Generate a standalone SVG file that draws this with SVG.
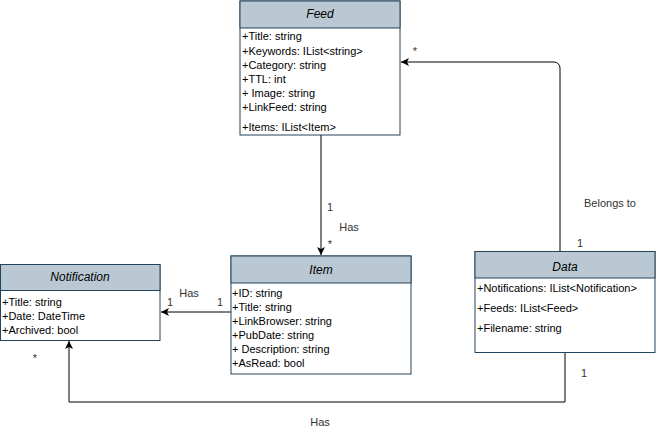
<svg xmlns="http://www.w3.org/2000/svg" width="671" height="433" viewBox="0 0 671 433">
<style>
.box{fill:#ffffff;stroke:#23445d;stroke-width:1}
.hdr{fill:#bac8d3;stroke:#23445d;stroke-width:1}
.title{font-family:"Liberation Sans",Arial,sans-serif;font-size:12px;font-style:italic;fill:#000;text-anchor:middle}
.attr{font-family:"Liberation Sans",Arial,sans-serif;font-size:11px;fill:#000}
.lbl{font-family:"Liberation Sans",Arial,sans-serif;font-size:11px;fill:#333;text-anchor:middle}
.edge{fill:none;stroke:#000;stroke-width:1}
</style>
<defs>
<marker id="arr" markerWidth="10" markerHeight="10" refX="8" refY="4" orient="auto" markerUnits="userSpaceOnUse">
<path d="M0,0 L8,4 L0,8 L2,4 Z" fill="#000"/>
</marker>
</defs>
<rect width="671" height="433" fill="#ffffff"/>
<g id="connectors">
<path class="edge" d="M321 135 V255" marker-end="url(#arr)"/>
<path class="edge" d="M231 312 H161" marker-end="url(#arr)"/>
<path class="edge" d="M560 251 V68 A6 6 0 0 0 554 62 H401" marker-end="url(#arr)"/>
<path class="edge" d="M565 353 V402 H69 V341" marker-end="url(#arr)"/>
<text class="lbl" x="330" y="211">1</text>
<text class="lbl" x="349" y="231">Has</text>
<text class="lbl" x="330" y="248">*</text>
<text class="lbl" x="189" y="297">Has</text>
<text class="lbl" x="170" y="306">1</text>
<text class="lbl" x="220" y="306">1</text>
<text class="lbl" x="415" y="55">*</text>
<text class="lbl" x="610" y="207">Belongs to</text>
<text class="lbl" x="580" y="247">1</text>
<text class="lbl" x="584" y="377">1</text>
<text class="lbl" x="35" y="362">*</text>
<text class="lbl" x="320" y="426">Has</text>
</g>
<g id="feed">
<rect class="box" x="240" y="1" width="160" height="134"/>
<rect class="hdr" x="240" y="1" width="160" height="27"/>
<text class="title" x="320" y="18">Feed</text>
<text class="attr" x="242" y="40">+Title: string</text>
<text class="attr" x="242" y="54.5">+Keywords: IList&lt;string&gt;</text>
<text class="attr" x="242" y="69">+Category: string</text>
<text class="attr" x="242" y="83">+TTL: int</text>
<text class="attr" x="242" y="97">+ Image: string</text>
<text class="attr" x="242" y="111">+LinkFeed: string</text>
<text class="attr" x="242" y="131">+Items: IList&lt;Item&gt;</text>
</g>
<g id="notification">
<rect class="box" x="0.5" y="264.5" width="159.5" height="76"/>
<rect class="hdr" x="0.5" y="264.5" width="159.5" height="26"/>
<text class="title" x="80" y="281">Notification</text>
<text class="attr" x="2" y="306">+Title: string</text>
<text class="attr" x="2" y="320">+Date: DateTime</text>
<text class="attr" x="2" y="334">+Archived: bool</text>
</g>
<g id="item">
<rect class="box" x="231" y="256" width="180" height="118"/>
<rect class="hdr" x="231" y="256" width="180" height="27"/>
<text class="title" x="321" y="274">Item</text>
<text class="attr" x="232" y="297">+ID: string</text>
<text class="attr" x="232" y="311">+Title: string</text>
<text class="attr" x="232" y="325">+LinkBrowser: string</text>
<text class="attr" x="232" y="339">+PubDate: string</text>
<text class="attr" x="232" y="353">+ Description: string</text>
<text class="attr" x="232" y="367">+AsRead: bool</text>
</g>
<g id="data">
<rect class="box" x="475" y="251.5" width="180" height="101"/>
<rect class="hdr" x="475" y="251.5" width="180" height="26.5"/>
<text class="title" x="565" y="271">Data</text>
<text class="attr" x="477" y="292">+Notifications: IList&lt;Notification&gt;</text>
<text class="attr" x="477" y="312">+Feeds: IList&lt;Feed&gt;</text>
<text class="attr" x="477" y="332">+Filename: string</text>
</g>
</svg>
